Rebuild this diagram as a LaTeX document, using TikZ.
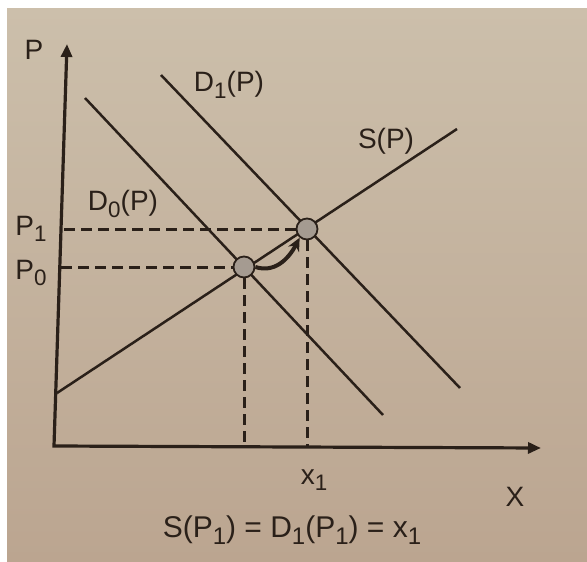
\documentclass[tikz,border=0pt]{standalone}
\usepackage{fontspec}
\setmainfont{Liberation Sans}
\usetikzlibrary{arrows.meta,positioning}
\definecolor{cPaper}{HTML}{CCBFAB}
\definecolor{cPaperD}{HTML}{BBA590}
\definecolor{cInk}{HTML}{2A2019}
\definecolor{cDot}{HTML}{A59B91}
\newcommand{\lowsub}[1]{\raisebox{-0.45ex}{\scalebox{0.8}{#1}}}
\tikzset{
  ax/.style={{Triangle[length=13pt,width=11pt]}-{Triangle[length=13pt,width=11pt]},line width=3.2pt,draw=cInk},
  dline/.style={line width=2.5pt,draw=cInk},
  dashline/.style={line width=3pt,draw=cInk,dash pattern=on 11pt off 6pt},
  eqdot/.style={circle,draw=cInk,fill=cDot,line width=1.8pt,minimum size=21pt,inner sep=0pt},
  lbl/.style={font=\fontsize{28}{28}\selectfont,text=cInk,inner sep=1pt},
  shiftarr/.style={-{Stealth[length=13pt,width=12pt]},line width=4pt,draw=cInk},
}

\begin{document}
\begin{tikzpicture}[x=1pt,y=-1pt]
    % paper
    \fill[white] (0,0) rectangle (587,562);
    \shade[top color=cPaper,bottom color=cPaperD] (7,8) rectangle (587,562);
    \useasboundingbox (0,0) rectangle (587,562);
    % axes
    \coordinate (o) at (54,446);
    \coordinate (ytip) at (67,44);
    \coordinate (xtip) at (541,448);
    \draw[ax] (ytip) -- (o) -- (xtip);
    % demand and supply
    \coordinate (d0a) at (85,98);  \coordinate (d0b) at (383,415);
    \coordinate (d1a) at (161,75); \coordinate (d1b) at (460,388);
    \coordinate (sa) at (57,393);  \coordinate (sb) at (457,129);
    \draw[dline] (d0a) -- (d0b);
    \draw[dline] (d1a) -- (d1b);
    \draw[dline] (sa) -- (sb);
    % equilibria
    \node[eqdot] (e0) at (244,267) {};
    \node[eqdot] (e1) at (307,229) {};
    % guides to the axes
    \coordinate (p0) at (61,267); \coordinate (p1) at (64,229);
    \coordinate (q0) at (244,446); \coordinate (q1) at (307,446);
    \draw[dashline] (p1) -- (e1.west);
    \draw[dashline] (p0) -- (e0.west);
    \draw[dashline] (e0.south) -- (q0);
    \draw[dashline] (e1.south) -- (q1);
    % shift of the equilibrium
    \draw[shiftarr] (e0.east) .. controls (274,273) and (288,260) .. (e1.230);
    % labels
    \node[lbl] (lp) at (34,50) {P};
    \node[lbl] (lp1) at (31,229) {P\lowsub{1}};
    \node[lbl] (lp0) at (31,273) {P\lowsub{0}};
    \node[lbl] (ld0) at (123,204) {D\lowsub{0}(P)};
    \node[lbl] (ld1) at (229,85) {D\lowsub{1}(P)};
    \node[lbl] (ls) at (386,141) {S(P)};
    \node[lbl] (lx1) at (314,480) {x\lowsub{1}};
    \node[lbl] (lx) at (515,497) {X};
    \node[lbl,font=\fontsize{30}{30}\selectfont] (leq) at (292,530) {S(P\lowsub{1}) = D\lowsub{1}(P\lowsub{1}) = x\lowsub{1}};
\end{tikzpicture}
\end{document}
